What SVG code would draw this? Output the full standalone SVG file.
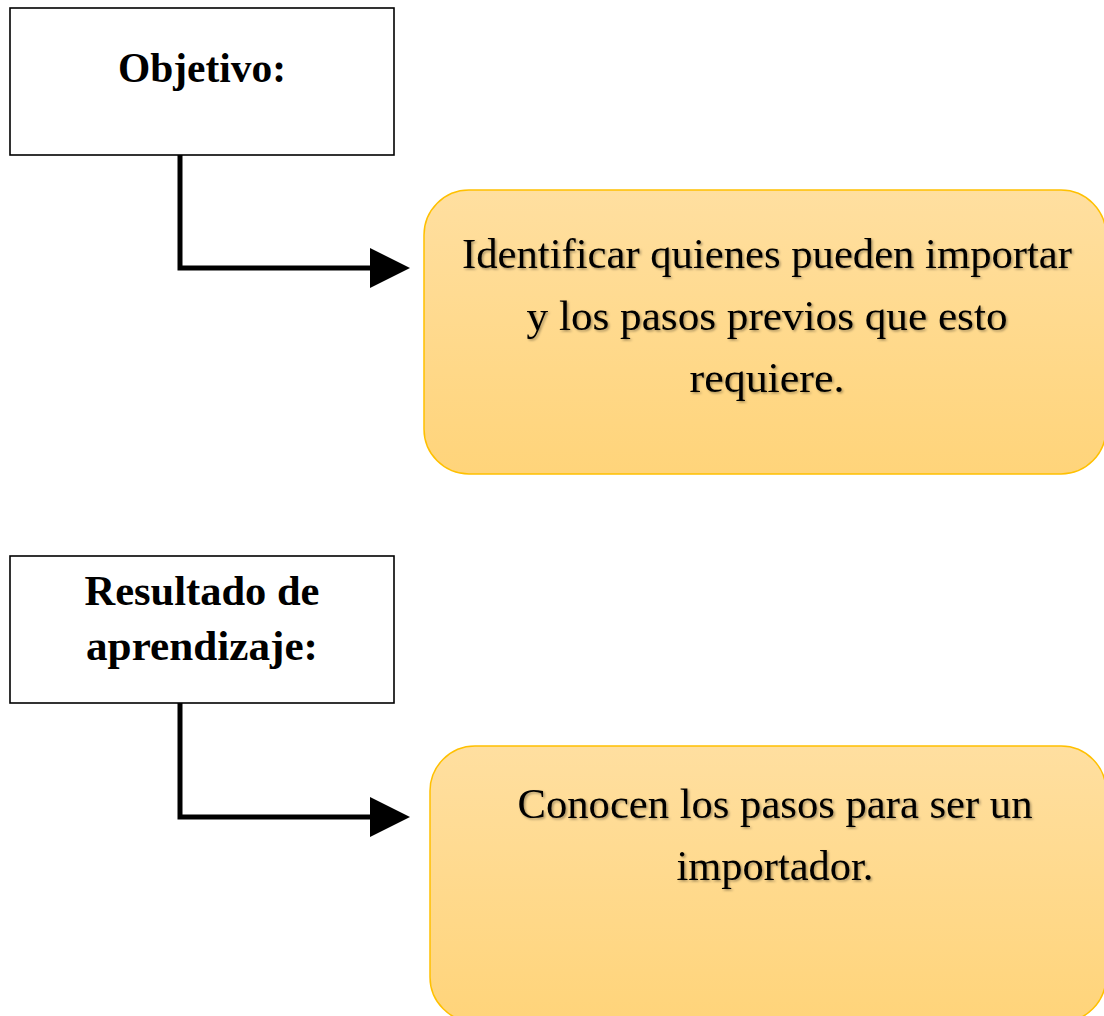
<svg xmlns="http://www.w3.org/2000/svg" width="1104" height="1016" viewBox="0 0 1104 1016">
<style>
.box{fill:#ffffff;stroke:#000000;stroke-width:1.6}
.card{stroke:#ffc000;stroke-width:1.5}
.lbl{font-family:"Liberation Serif","Times New Roman",serif;font-weight:bold;font-size:42px;fill:#000;text-anchor:middle}
.txt{font-family:"Liberation Serif","Times New Roman",serif;font-size:42px;fill:#000;text-anchor:middle}
.conn{fill:none;stroke:#000;stroke-width:5}
</style>
<defs>
<linearGradient id="g" x1="0" y1="0" x2="0" y2="1">
<stop offset="0" stop-color="#ffdfa0"/>
<stop offset="1" stop-color="#ffd47a"/>
</linearGradient>
<filter id="sh" x="-5%" y="-20%" width="110%" height="140%">
<feDropShadow dx="1.5" dy="1.5" stdDeviation="1" flood-color="#000" flood-opacity="0.35"/>
</filter>
<marker id="arr" markerWidth="8" markerHeight="8" refX="0" refY="4" orient="auto" markerUnits="strokeWidth">
<path d="M0,0 L8,4 L0,8 Z" fill="#000"/>
</marker>
</defs>
<g id="connectors">
<path class="conn" d="M180,155 V268 H370" marker-end="url(#arr)"/>
<path class="conn" d="M180,703 V817 H370" marker-end="url(#arr)"/>
</g>
<g id="objetivo">
<rect class="box" x="10" y="8" width="384" height="147"/>
<text class="lbl" x="202" y="82" textLength="168" lengthAdjust="spacingAndGlyphs">Objetivo:</text>
</g>
<g id="objetivo-texto">
<rect class="card" x="424" y="190" width="682" height="284" rx="45" fill="url(#g)"/>
<g filter="url(#sh)">
<text class="txt" x="767" y="268" textLength="610" lengthAdjust="spacingAndGlyphs">Identificar quienes pueden importar</text>
<text class="txt" x="767" y="330" textLength="481" lengthAdjust="spacingAndGlyphs">y los pasos previos que esto</text>
<text class="txt" x="767" y="392" textLength="155" lengthAdjust="spacingAndGlyphs">requiere.</text>
</g>
</g>
<g id="resultado">
<rect class="box" x="10" y="556" width="384" height="147"/>
<text class="lbl" x="202" y="605" textLength="235" lengthAdjust="spacingAndGlyphs">Resultado de</text>
<text class="lbl" x="202" y="660" textLength="232" lengthAdjust="spacingAndGlyphs">aprendizaje:</text>
</g>
<g id="resultado-texto">
<rect class="card" x="430" y="746" width="676" height="276" rx="45" fill="url(#g)"/>
<g filter="url(#sh)">
<text class="txt" x="775" y="818" textLength="515" lengthAdjust="spacingAndGlyphs">Conocen los pasos para ser un</text>
<text class="txt" x="775" y="880" textLength="197" lengthAdjust="spacingAndGlyphs">importador.</text>
</g>
</g>
</svg>
